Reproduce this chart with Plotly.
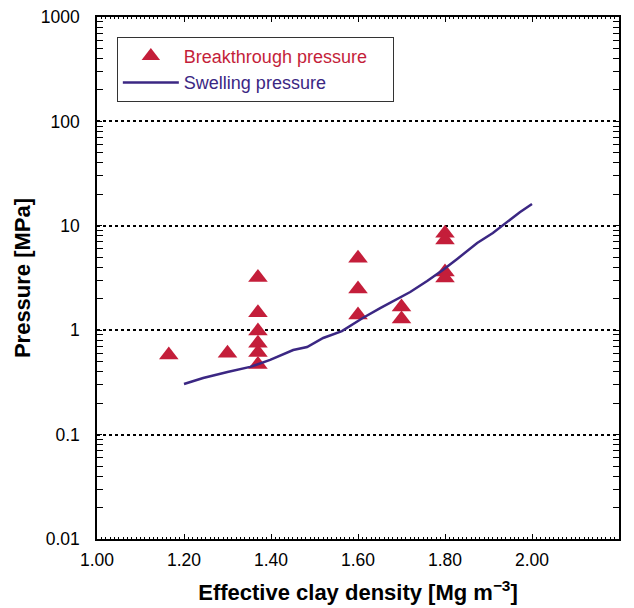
import plotly.graph_objects as go

# Breakthrough pressure measurements
bt_density = [1.165, 1.30, 1.37, 1.37, 1.37, 1.37, 1.37, 1.37,
              1.60, 1.60, 1.60, 1.70, 1.70, 1.80, 1.80, 1.80, 1.80]
bt_pressure = [0.58, 0.60, 3.2, 1.47, 0.98, 0.75, 0.61, 0.47,
               4.9, 2.48, 1.40, 1.67, 1.28, 8.5, 7.3, 3.6, 3.16]

# Swelling pressure curve
sw_density = [1.20, 1.244, 1.30, 1.352, 1.398, 1.451, 1.483, 1.52, 1.563,
              1.611, 1.651, 1.692, 1.72, 1.759, 1.795, 1.828, 1.874, 1.91,
              1.943, 1.972, 2.00]
sw_pressure = [0.305, 0.348, 0.398, 0.445, 0.519, 0.646, 0.69, 0.842, 0.98,
               1.31, 1.63, 2.03, 2.32, 2.96, 3.77, 4.81, 6.85, 8.53,
               10.9, 13.5, 16.2]

x_ticks = [1.0, 1.2, 1.4, 1.6, 1.8, 2.0, 2.2]
x_ticklabels = ["1.00", "1.20", "1.40", "1.60", "1.80", "2.00", "2.20"]
y_ticks = [0.01, 0.1, 1, 10, 100, 1000]
y_ticklabels = ["0.01", "0.1", "1", "10", "100", "1000"]

RED = "#c41e3a"
PURPLE = "#3b2783"
FONT = "Liberation Sans, Arial, sans-serif"
PAD = "&nbsp;" * 4

fig = go.Figure()
fig.add_trace(go.Scatter(
    x=bt_density, y=bt_pressure, mode="markers",
    marker=dict(symbol="triangle-up", size=17, color=RED),
    name='<span style="color:%s">Breakthrough pressure</span>%s' % (RED, PAD),
))
fig.add_trace(go.Scatter(
    x=sw_density, y=sw_pressure, mode="lines",
    line=dict(color=PURPLE, width=2.5),
    name='<span style="color:%s">Swelling pressure</span>' % PURPLE,
))

axis_common = dict(
    showline=True, linecolor="black", linewidth=1.5, mirror="ticks",
    ticks="inside", tickcolor="black", ticklen=5, tickwidth=1,
    tickfont=dict(family=FONT, size=17.5, color="black"),
    zeroline=False,
)

fig.update_xaxes(
    range=[1.0, 2.2], tickvals=x_ticks, ticktext=x_ticklabels,
    showgrid=False,
    minor=dict(ticks="inside", dtick=0.01, ticklen=2, tickcolor="black", tickwidth=1),
    title=dict(text="<b>Effective clay density [Mg m<sup>−3</sup>]</b>",
               font=dict(family=FONT, size=22, color="black"), standoff=16),
    ticklabelstandoff=4,
    **axis_common,
)
fig.update_yaxes(
    type="log", range=[-2, 3], tickvals=y_ticks, ticktext=y_ticklabels,
    showgrid=True, gridcolor="black", gridwidth=2, griddash="dot",
    minor=dict(ticks="inside", tickvals=[m * 10 ** e for e in range(-2, 3) for m in range(2, 10)],
               ticklen=6, tickcolor="black", tickwidth=1, showgrid=False),
    title=dict(text="<b>Pressure [MPa]</b>",
               font=dict(family=FONT, size=22, color="black"), standoff=4),
    ticklabelstandoff=12,
    **axis_common,
)

fig.update_layout(
    width=634, height=608,
    margin=dict(l=97, r=15, t=17, b=69, autoexpand=False),
    paper_bgcolor="white", plot_bgcolor="white",
    font=dict(family=FONT, size=18),
    showlegend=True,
    legend=dict(
        x=0.038, y=0.962, xanchor="left", yanchor="top",
        bgcolor="white", bordercolor="#333333", borderwidth=1,
        font=dict(family=FONT, size=18),
        itemwidth=56, tracegroupgap=0,
    ),
)

fig.write_html("out.html")
